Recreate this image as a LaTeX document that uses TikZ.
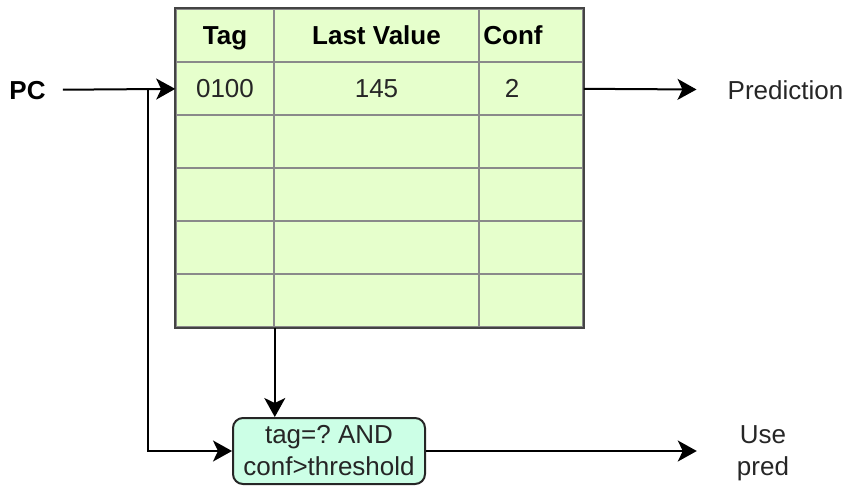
\documentclass[tikz,border=0pt]{standalone}
\usepackage{fontspec}
\setmainfont{Liberation Sans}
\usetikzlibrary{positioning,arrows.meta}

\definecolor{tblfill}{HTML}{E6FFCC}
\definecolor{tblgrid}{HTML}{8A8A8A}
\definecolor{tblframe}{HTML}{444444}
\definecolor{chkfill}{HTML}{CCFFE6}

\tikzset{
  cell/.style={draw=tblgrid, line width=1.6pt, fill=tblfill, inner sep=0pt, minimum height=53pt},
  txt/.style={font=\fontsize{26}{32}\selectfont, inner sep=0pt, text=black!85},
  bold/.style={txt, font=\fontsize{26}{32}\selectfont\bfseries, text=black},
  oneline/.style={text height=18.7pt, text depth=0pt},
  wire/.style={line width=2pt, -{Stealth[length=19pt, width=21pt, inset=5pt]}},
}

\begin{document}
\frenchspacing
\begin{tikzpicture}[x=1pt, y=-1pt]
  \useasboundingbox (0,0) rectangle (848,485);

  % Table cells
  \foreach \r in {0,...,5}{
    \node[cell, minimum width=98pt]  (t\r) at (225,   {35.5+53*\r}) {};
    \node[cell, minimum width=205pt] (v\r) at (376.5, {35.5+53*\r}) {};
    \node[cell, minimum width=104pt] (k\r) at (531,   {35.5+53*\r}) {};
  }
  \draw[tblframe, line width=2pt] (t0.north west) rectangle (k5.south east);

  % Table entries
  \node[bold, oneline] (tagh)  at (t0) {Tag};
  \node[bold, oneline] (lasth) at (v0) {Last Value};
  \node[bold, oneline, xshift=-18pt] (confh) at (k0) {Conf};
  \node[txt, oneline] (tag1)  at (t1) {0100};
  \node[txt, oneline] (last1) at (v1) {145};
  \node[txt, oneline, xshift=-19pt] (conf1) at (k1) {2};

  % Other nodes
  \node[bold, oneline, inner xsep=17pt] (pc) at (27.5,90) {PC};
  \node[txt, oneline, inner xsep=31pt] (pred) at (785.5,90) {Prediction};
  \node[txt, align=center, draw=black!85, line width=2pt, fill=chkfill,
        rounded corners=10pt, minimum width=192pt, minimum height=66pt]
        (chk) at (329,451) {tag=? AND\\conf>threshold};
  \node[txt, align=center, inner xsep=40pt] (use) at (763,453) {Use\\pred};
  \coordinate (tap) at (148,88.5);

  % Connect the nodes
  \draw[wire] (pc) -- (t1);
  \draw[wire] (k1) -- (pred);
  \draw[wire] (tap) |- (chk);
  \draw[wire] (t5.south east) -- (t5.south east |- chk.north);
  \draw[wire] (chk) -- (chk -| use.west);
\end{tikzpicture}
\end{document}
